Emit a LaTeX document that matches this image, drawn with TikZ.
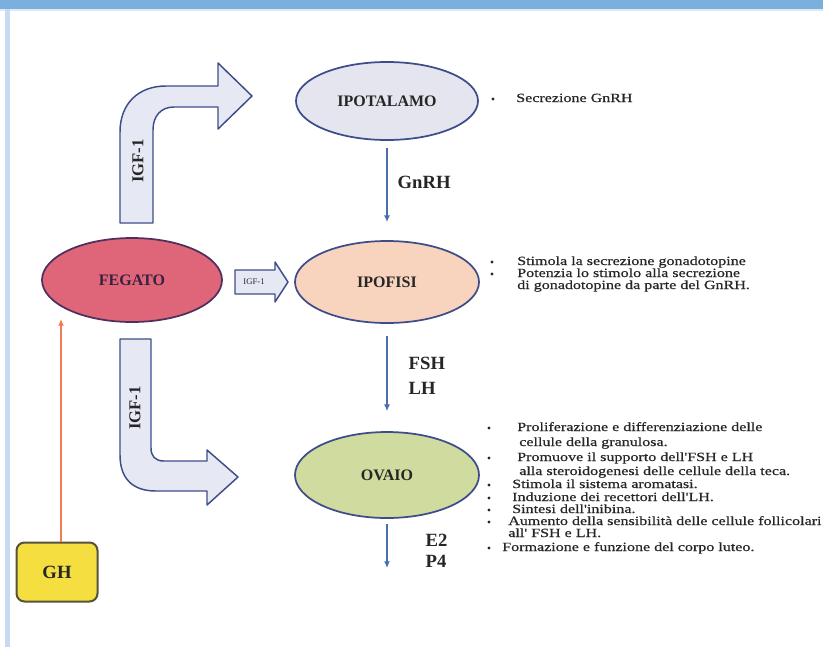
\documentclass[tikz,border=0pt]{standalone}
\usepackage{fontspec}
\setmainfont{Liberation Serif}
\newfontfamily\listfont[FakeStretch=1.28, FakeBold=0.6]{Liberation Serif}
\usetikzlibrary{arrows.meta,shapes.geometric}

\definecolor{bandblue}{HTML}{7BAFDE}
\definecolor{stripblue}{HTML}{C6DBF1}
\definecolor{edgeblue}{HTML}{3E4D8A}
\definecolor{flowblue}{HTML}{4A6DB0}
\definecolor{ghorange}{HTML}{EE7D52}
\definecolor{ghyellow}{HTML}{F4DE40}
\definecolor{ghedge}{HTML}{55533A}
\definecolor{ipotfill}{HTML}{E5E5EF}
\definecolor{ipofill}{HTML}{F8D4BF}
\definecolor{fegfill}{HTML}{DF6579}
\definecolor{fegedge}{HTML}{4E2F5E}
\definecolor{ovfill}{HTML}{D0DB9F}
\definecolor{pipefill}{HTML}{E6E9F3}
\definecolor{inktext}{HTML}{262626}

\tikzset{
  gland/.style={ellipse, draw=edgeblue, line width=1.3pt, inner sep=0pt,
    text=inktext, font=\bfseries\fontsize{12}{12}\selectfont},
  flow/.style={draw=flowblue, line width=1.4pt, -{Latex[length=5pt,width=4.5pt]}},
  flowlabel/.style={anchor=west, text=inktext, font=\bfseries\fontsize{14}{14}\selectfont},
  pipe/.style={fill=pipefill, draw=edgeblue, line width=1.1pt, line join=round},
  pipelabel/.style={text=inktext, font=\bfseries\fontsize{12.5}{12.5}\selectfont},
  listline/.style={anchor=base west, inner sep=0pt, text=inktext, font=\listfont\fontsize{9.4}{9.4}\selectfont},
  dot/.style={circle, fill=inktext, inner sep=0pt, minimum size=2.4pt},
  ghbox/.style={rectangle, rounded corners=6pt, draw=ghedge, line width=1.5pt, fill=ghyellow,
    minimum width=60.75pt, minimum height=44.25pt, text=inktext, font=\bfseries\fontsize{14}{14}\selectfont},
}

\begin{document}
\begin{tikzpicture}[x=0.75pt, y=-0.75pt]
  \useasboundingbox (0,0) rectangle (823,647);
  \fill[white] (0,0) rectangle (823,647);
  \fill[bandblue] (0,0) rectangle (823,9);
  \fill[stripblue!60] (0,9) rectangle (823,10.5);
  \fill[stripblue] (5,9) rectangle (10,647);

  \node[gland, fill=ipotfill, minimum width=136.5pt, minimum height=58.5pt] (ipotalamo) at (387,101) {IPOTALAMO};
  \node[gland, fill=ipofill, minimum width=138pt, minimum height=61.5pt] (ipofisi) at (387,282) {IPOFISI};
  \node[gland, fill=ovfill, minimum width=138pt, minimum height=64.5pt] (ovaio) at (387,475) {OVAIO};
  \node[gland, fill=fegfill, draw=fegedge, text=fegedge!70!black, minimum width=135pt, minimum height=63pt] (fegato) at (132,280) {FEGATO};
  \node[ghbox] (gh) at (57,572) {GH};

  \filldraw[pipe] (120,223) -- (120,132) .. controls (120,104) and (138,86) .. (166,86) -- (218,86) -- (218,63)
    -- (252,96) -- (218,129) -- (218,107) -- (174,107) .. controls (161,107) and (153,116) .. (153,130) -- (153,223) -- cycle;
  \node[pipelabel, rotate=90] (igfup) at (138,161) {IGF-1};

  \filldraw[pipe] (120,339) -- (120,455) .. controls (120,478) and (132,491) .. (156,491) -- (207,491) -- (207,505)
    -- (238,477) -- (207,450) -- (207,461) -- (164,461) .. controls (155,461) and (151,456) .. (151,448) -- (151,339) -- cycle;
  \node[pipelabel, rotate=90] (igfdown) at (135,408) {IGF-1};

  \filldraw[pipe] (235,270) -- (275,270) -- (275,262) -- (288,282) -- (275,302) -- (275,294) -- (235,294) -- cycle;
  \node[text=inktext, inner sep=0pt, font=\fontsize{6.5}{6.5}\selectfont] (igfmid) at (254,282) {IGF-1};

  \coordinate (ghtip) at (61,319);
  \coordinate (steroid) at (387,568);
  \draw[flow, shorten <=5pt, shorten >=13.5pt] (ipotalamo) -- (ipofisi);
  \draw[flow, shorten <=9pt, shorten >=15pt] (ipofisi) -- (ovaio);
  \draw[flow, shorten <=3.75pt] (ovaio) -- (steroid);
  \draw[draw=ghorange, line width=1.4pt, -{Latex[length=5pt,width=4.5pt]}] (gh.north -| ghtip) -- (ghtip);

  \node[flowlabel] (gnrh) at (393,182) {GnRH};
  \node[flowlabel] (fsh) at (404,363) {FSH};
  \node[flowlabel] (lh) at (404,388) {LH};
  \node[flowlabel] (etwo) at (421,540) {E2};
  \node[flowlabel] (pfour) at (421,561) {P4};

  \node[dot] (ipotdot) at (493,99) {};
  \node[listline] (ipotline) at (516,102) {Secrezione GnRH};

  \foreach \y in {262,274} \node[dot] (ipodot\y) at (492,\y) {};
  \foreach \y/\x/\t [count=\n] in {265/517/{Stimola la secrezione gonadotopine},
      277/517/{Potenzia lo stimolo alla secrezione},
      289/517/{di gonadotopine da parte del GnRH.}}
    \node[listline] (ipoline\n) at (\x,\y) {\t};

  \foreach \y in {428,458,485,498,510,522,548} \node[dot] (ovdot\y) at (489,\y) {};
  \foreach \y/\x/\t [count=\n] in {431/517/{Proliferazione e differenziazione delle},
      446/519/{cellule della granulosa.},
      461/517/{Promuove il supporto dell'FSH e LH},
      475/519/{alla steroidogenesi delle cellule della teca.},
      488/512/{Stimola il sistema aromatasi.},
      501/512/{Induzione dei recettori dell'LH.},
      513/512/{Sintesi dell'inibina.},
      525/508/{Aumento della sensibilità delle cellule follicolari},
      537/508/{all' FSH e LH.},
      551/502/{Formazione e funzione del corpo luteo.}}
    \node[listline] (ovline\n) at (\x,\y) {\t};
\end{tikzpicture}
\end{document}
